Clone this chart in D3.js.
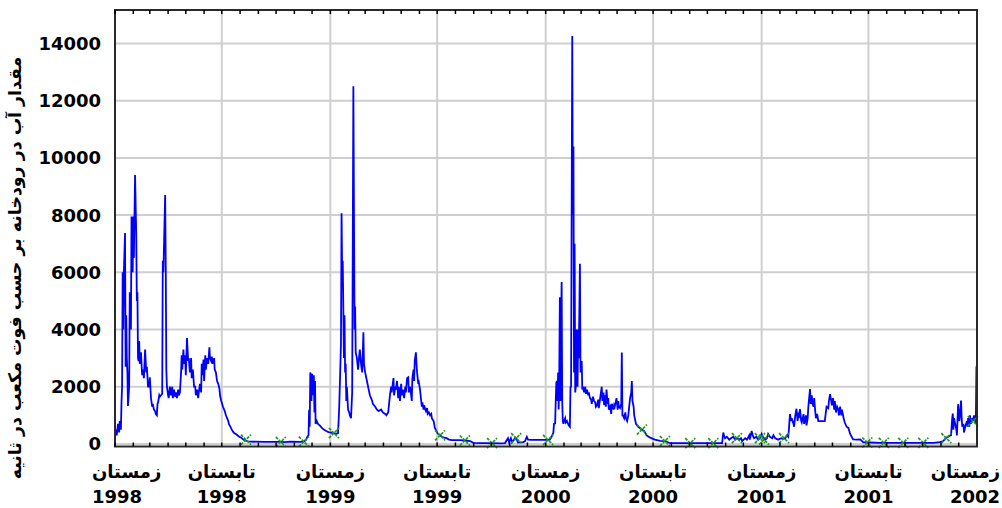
<!DOCTYPE html>
<html>
<head>
<meta charset="utf-8">
<script src="https://cdn.jsdelivr.net/npm/d3@7"></script>
<style>
  body { margin: 0; background: #fff; }
  svg { display: block; }
  text { font-family: "DejaVu Sans", sans-serif; font-weight: bold; fill: #000; }
</style>
</head>
<body>
<div id="chart"></div>
<script>
const startDate = new Date(1998, 0, 1);
const endDate = new Date(2002, 0, 1);

// flow, [days since 1 Jan 1998, cubic feet per second]
const flowPoints = [
  [0,250],[2,500],[3,300],[5,700],[7,400],[8,800],[10,500],[11,1450],[12,2000],[13,6000],
  [14,4000],[15,6000],[17,7370],[18,2700],[19,4500],[20,3000],[21,2500],[22,1330],[24,2000],[25,5300],
  [27,4000],[28,7950],[30,6000],[31,7950],[32,6500],[34,9400],[36,7300],[37,5000],[38,5300],[39,3000],
  [40,2900],[41,3600],[42,2800],[44,3200],[46,2400],[47,2600],[49,2300],[51,3300],[53,2500],[54,2700],
  [56,2000],[58,2000],[59,2330],[61,1600],[63,1300],[64,1400],[66,1200],[68,1150],[69,1050],[71,1000],
  [72,1400],[73,1450],[75,1700],[76,1650],[78,1700],[80,1750],[81,6400],[82,6000],[85,8700],[86,6200],
  [87,2600],[88,2000],[90,1700],[91,1600],[93,2000],[95,1700],[97,2000],[98,1600],[100,1900],[102,1650],
  [103,1800],[105,1600],[107,1900],[108,1700],[110,1800],[112,2500],[113,3100],[114,2600],[116,3300],[117,2800],
  [119,3100],[120,2400],[122,3700],[124,2900],[125,3000],[127,2500],[129,3000],[130,2300],[132,2600],[134,2000],
  [136,2000],[137,1700],[139,1900],[141,1600],[142,1800],[144,2100],[146,1800],[147,2800],[148,2400],[150,2950],
  [151,2200],[153,3100],[154,2600],[156,3000],[158,2800],[160,3380],[161,3000],[163,2900],[164,3050],[166,2800],
  [168,3000],[169,2600],[171,2500],[173,2200],[175,2100],[177,1930],[178,1700],[180,1500],[181,1450],[183,1300],
  [185,1200],[186,1150],[188,1000],[190,900],[192,800],[193,700],[195,620],[198,500],[200,430],[202,380],
  [206,330],[210,260],[214,220],[217,160],[220,120],[225,90],[229,80],[254,70],[280,70],[288,60],
  [297,80],[314,70],[320,80],[324,150],[326,250],[328,300],[329,1190],[330,600],[331,2500],[332,2400],
  [333,1500],[334,2450],[336,1700],[337,2400],[338,1100],[339,2200],[340,700],[342,800],[344,700],[347,650],
  [351,550],[354,500],[358,450],[361,420],[364,400],[370,380],[375,350],[378,380],[379,800],[380,1300],
  [381,2000],[383,3500],[384,8060],[385,6000],[386,6400],[388,3000],[389,4500],[390,2500],[391,2800],[392,1500],
  [393,2000],[395,1200],[397,1100],[398,1000],[400,900],[402,1800],[404,12500],[406,4000],[407,4800],[408,3200],
  [410,3000],[412,2600],[414,3100],[415,3300],[417,2800],[419,2500],[421,3900],[422,2800],[424,2500],[427,2200],
  [429,2000],[430,1900],[432,1700],[434,1600],[436,1500],[437,1400],[441,1300],[444,1200],[447,1150],[451,1200],
  [454,1100],[458,1050],[460,1000],[463,1100],[464,1300],[466,1700],[468,2000],[469,1800],[472,2300],[473,1700],
  [475,2000],[476,1900],[478,2200],[480,1600],[481,2000],[483,1500],[485,2100],[486,1700],[488,1900],[490,1600],
  [492,2000],[493,1800],[495,2300],[497,2330],[498,1800],[500,2000],[502,1700],[503,1500],[504,2300],[506,2600],
  [507,2200],[508,2900],[510,3200],[511,2800],[512,2500],[514,2100],[515,2150],[517,1900],[519,1500],[520,1300],
  [521,1450],[523,1200],[524,1350],[526,1200],[527,1150],[529,1250],[530,1050],[532,1100],[534,1000],[536,1050],
  [537,900],[540,800],[541,700],[542,570],[544,480],[546,400],[548,340],[551,300],[554,250],[558,220],
  [562,200],[566,150],[571,130],[585,130],[593,120],[602,100],[607,40],[619,30],[636,30],[653,20],
  [661,30],[666,200],[668,50],[671,200],[673,60],[678,200],[680,200],[683,50],[692,60],[695,100],
  [698,250],[700,150],[706,140],[720,140],[732,140],[737,150],[740,250],[743,400],[744,700],[746,720],
  [747,1500],[748,2150],[749,2200],[750,1500],[751,2500],[752,1200],[753,2500],[754,5130],[755,1500],[756,4000],
  [757,5660],[758,1500],[759,800],[760,700],[761,800],[763,900],[764,750],[766,800],[768,700],[769,650],
  [771,600],[772,1990],[773,2000],[775,14260],[776,8000],[777,10400],[778,2500],[779,7000],[780,1800],[781,2000],
  [782,4000],[784,2000],[785,4000],[786,3000],[788,6300],[789,2500],[791,2900],[792,1900],[793,2000],[795,1800],
  [797,2000],[798,1750],[800,1900],[802,1700],[803,1800],[805,1600],[807,1550],[808,1400],[810,1650],[812,1500],
  [814,1450],[815,1300],[817,1350],[819,1550],[820,1250],[822,1550],[825,2000],[826,1500],[828,1800],[829,1350],
  [830,1700],[832,1300],[833,1900],[835,1400],[836,1600],[837,1200],[839,1300],[841,1050],[842,1400],[845,1200],
  [846,1350],[847,1300],[850,1600],[852,1200],[853,1500],[854,1300],[856,1250],[858,1400],[859,3200],[860,1000],
  [861,1000],[863,900],[865,1100],[866,900],[868,800],[870,1000],[871,1200],[873,1600],[875,1800],[876,2200],
  [877,1500],[879,1300],[880,1000],[881,900],[883,700],[885,650],[887,600],[890,550],[893,500],[897,450],
  [901,300],[907,220],[915,150],[924,110],[932,100],[937,60],[941,25],[958,30],[992,25],[1026,25],
  [1029,30],[1031,400],[1032,300],[1034,200],[1037,250],[1041,150],[1044,200],[1048,250],[1051,150],[1054,200],
  [1058,150],[1061,200],[1063,100],[1068,200],[1071,150],[1075,300],[1076,150],[1079,450],[1081,300],[1083,200],
  [1087,250],[1090,150],[1093,200],[1096,350],[1098,250],[1102,150],[1105,200],[1107,350],[1110,250],[1114,200],
  [1116,300],[1119,200],[1124,150],[1129,200],[1132,170],[1136,200],[1139,300],[1141,250],[1142,450],[1144,1040],
  [1146,800],[1147,900],[1150,700],[1151,600],[1153,1000],[1155,1230],[1157,800],[1158,1100],[1159,900],[1161,1220],
  [1163,800],[1164,750],[1167,1040],[1168,700],[1170,900],[1171,1000],[1172,650],[1174,900],[1175,1250],[1176,1500],
  [1178,1920],[1179,1400],[1181,1700],[1182,1400],[1184,1300],[1185,1600],[1187,1100],[1188,900],[1190,1050],[1192,800],
  [1195,800],[1198,800],[1203,800],[1206,1300],[1209,1250],[1210,1500],[1212,1740],[1214,1500],[1215,1350],[1217,1600],
  [1219,1200],[1220,1500],[1222,1100],[1224,1300],[1226,1200],[1227,1000],[1229,1300],[1231,1000],[1232,1200],[1235,900],
  [1237,740],[1240,600],[1243,560],[1246,350],[1251,160],[1258,150],[1263,160],[1268,60],[1280,50],[1297,40],
  [1331,40],[1364,40],[1387,40],[1398,60],[1404,100],[1408,200],[1415,290],[1417,300],[1419,900],[1420,1060],
  [1421,500],[1422,900],[1424,700],[1426,500],[1427,300],[1429,1390],[1431,800],[1432,1000],[1434,1520],[1435,900],
  [1436,600],[1438,700],[1439,400],[1441,600],[1444,800],[1445,600],[1446,900],[1448,600],[1449,1000],[1451,700],
  [1453,900],[1454,800],[1456,1000],[1458,800],[1459,700],[1460,2680],[1461,2750]
];

// field measurements, [days since 1 Jan 1998, cfs]
const measurePoints = [
  [222,150],[281,70],[320,80],[371,380],[551,300],[593,120],[639,30],[680,200],[734,140],
  [893,500],[932,100],[975,25],[1014,25],[1054,200],[1093,200],[1100,150],[1134,200],
  [1275,50],[1303,40],[1336,40],[1370,40],[1409,200],[1454,800]
];

const yTicks = [0, 2000, 4000, 6000, 8000, 10000, 12000, 14000];
const seasonNames = ["زمستان", "تابستان", "زمستان", "تابستان", "زمستان", "تابستان", "زمستان", "تابستان", "زمستان"];
const seasonYears = ["1998", "1998", "1999", "1999", "2000", "2000", "2001", "2001", "2002"];
const yTitle = "مقدار آب در رودخانه بر حسب فوت مکعب در ثانیه";

const width = 1002;
const height = 508;
const plotLeft = 115, plotRight = 977, plotTop = 10, plotBottom = 446.5;

const svg = d3.select("#chart").append("svg")
  .attr("width", width)
  .attr("height", height);

const x = d3.scaleTime().domain([startDate, endDate]).range([plotLeft, plotRight]);
const y = d3.scaleLinear().domain([-90, 15170]).range([plotBottom, plotTop]);
const dayToDate = (d) => d3.timeDay.offset(startDate, d);

// grid
const seasonDates = seasonNames.map((s, i) => d3.timeMonth.offset(startDate, i * 6));

svg.append("g")
  .selectAll("line")
  .data(yTicks)
  .join("line")
  .attr("x1", plotLeft).attr("x2", plotRight)
  .attr("y1", (d) => y(d)).attr("y2", (d) => y(d))
  .attr("stroke", "#cfcfcf")
  .attr("stroke-width", 2);

svg.append("g")
  .selectAll("line")
  .data(seasonDates)
  .join("line")
  .attr("x1", (d) => x(d)).attr("x2", (d) => x(d))
  .attr("y1", plotTop).attr("y2", plotBottom)
  .attr("stroke", "#cfcfcf")
  .attr("stroke-width", 2);

// flow line
const line = d3.line()
  .x((d) => x(dayToDate(d[0])))
  .y((d) => y(d[1]));

svg.append("path")
  .datum(flowPoints)
  .attr("fill", "none")
  .attr("stroke", "#0000ff")
  .attr("stroke-width", 1.8)
  .attr("d", line);

// measurement markers
svg.append("g")
  .selectAll("path")
  .data(measurePoints)
  .join("path")
  .attr("transform", (d) => `translate(${x(dayToDate(d[0]))},${y(d[1])})`)
  .attr("d", "M-5,-5L5,5M-5,5L5,-5")
  .attr("fill", "none")
  .attr("stroke", "#1c9a1c")
  .attr("stroke-width", 1.7)
  .attr("stroke-dasharray", "3,1.2");

// frame
svg.append("rect")
  .attr("x", plotLeft).attr("y", plotTop)
  .attr("width", plotRight - plotLeft).attr("height", plotBottom - plotTop)
  .attr("fill", "none")
  .attr("stroke", "#2a2a2a")
  .attr("stroke-width", 2);

// monthly ticks, inside top and bottom
const months = d3.timeMonth.range(startDate, endDate);
const ticks = svg.append("g").attr("stroke", "#000").attr("stroke-width", 1.5);
ticks.selectAll("line.b").data(months).join("line")
  .attr("class", "b")
  .attr("x1", (d) => x(d)).attr("x2", (d) => x(d))
  .attr("y1", plotBottom).attr("y2", plotBottom - 4);
ticks.selectAll("line.t").data(months).join("line")
  .attr("class", "t")
  .attr("x1", (d) => x(d)).attr("x2", (d) => x(d))
  .attr("y1", plotTop).attr("y2", plotTop + 4);

// y tick labels
svg.append("g")
  .selectAll("text")
  .data(yTicks)
  .join("text")
  .attr("x", 101)
  .attr("y", (d) => y(d))
  .attr("dy", "0.36em")
  .attr("text-anchor", "end")
  .style("font-size", "18px")
  .text((d) => d);

// x labels: season + year
const xLabels = svg.append("g")
  .selectAll("g")
  .data(seasonDates)
  .join("g")
  .attr("transform", (d) => `translate(${x(d)},0)`);

xLabels.append("text")
  .attr("y", 478)
  .attr("text-anchor", "middle")
  .style("font-size", "18px")
  .text((d, i) => seasonNames[i]);

xLabels.append("text")
  .attr("y", 503)
  .attr("text-anchor", "middle")
  .style("font-size", "18px")
  .text((d, i) => seasonYears[i]);

// keep labels inside the picture
xLabels.selectAll("text").each(function () {
  const cx = x(d3.select(this.parentNode).datum());
  const w = this.getComputedTextLength();
  let shift = 0;
  if (cx - w / 2 < 92) shift = 92 - (cx - w / 2);
  if (cx + w / 2 > 1000) shift = 1000 - (cx + w / 2);
  d3.select(this).attr("x", shift);
});

// y title
const title = svg.append("text")
  .attr("transform", "translate(21,268) rotate(-90)")
  .attr("text-anchor", "middle")
  .style("font-size", "18px")
  .text(yTitle);
const tl = title.node().getComputedTextLength();
title.style("font-size", (18 * 423 / tl).toFixed(2) + "px");
</script>
</body>
</html>
